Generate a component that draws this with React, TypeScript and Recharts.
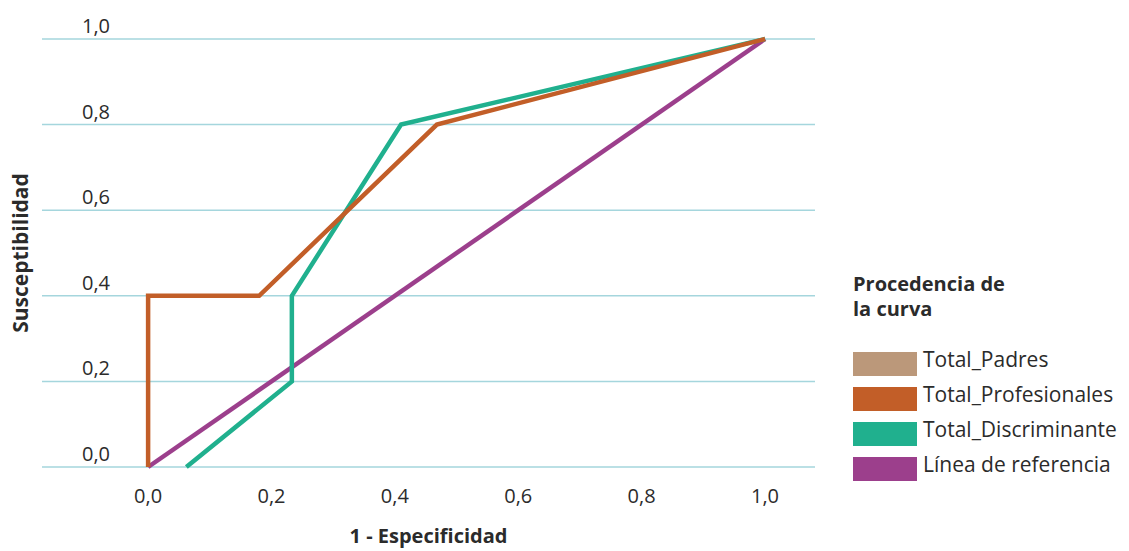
import { LineChart, Line, XAxis, YAxis, CartesianGrid } from 'recharts'

// ROC curves
const profX = [0, 0, 0.18, 0.468, 1]
const profY = [0, 0.4, 0.4, 0.8, 1]
const discX = [0.062, 0.233, 0.233, 0.41, 1]
const discY = [0, 0.2, 0.4, 0.8, 1]
const refX = [0, 1]
const refY = [0, 1]

const xTicks = [0, 0.2, 0.4, 0.6, 0.8, 1]
const yTicks = [0, 0.2, 0.4, 0.6, 0.8, 1]

const legendItems = [
  { name: 'Total_Padres', color: '#BB987A' },
  { name: 'Total_Profesionales', color: '#C25E28' },
  { name: 'Total_Discriminante', color: '#20B08E' },
  { name: 'Línea de referencia', color: '#9C3F8C' },
]

const toPoints = (xs: number[], ys: number[]) => xs.map((x, i) => ({ x, y: ys[i] }))

const fmt = (v: number) => v.toFixed(1).replace('.', ',')

const FONT = '"Open Sans", sans-serif'
const TEXT = '#2b2b2b'

const renderYTick = (props: any) => {
  const { y, payload } = props
  return (
    <text key={payload.value} x={110} y={y - 6} textAnchor="end" fill={TEXT} fontSize={20} fontFamily={FONT}>
      {fmt(payload.value)}
    </text>
  )
}

export default function App() {
  return (
    <div style={{ position: 'absolute', left: 0, top: 0, width: 1129, height: 551, background: '#fff', fontFamily: FONT }}>
      <LineChart width={830} height={551} margin={{ left: 41, right: 15, top: 39, bottom: 0 }}>
        <CartesianGrid vertical={false} stroke="#A5D6DD" strokeWidth={1.5} />
        <XAxis
          type="number"
          dataKey="x"
          domain={[-0.172, 1.081]}
          ticks={xTicks}
          tickFormatter={fmt}
          axisLine={false}
          tickLine={false}
          height={84}
          tick={{ fill: TEXT, fontSize: 20, fontFamily: FONT, dy: 14 }}
          label={{ value: '1 - Especificidad', position: 'insideBottom', offset: 0, dy: -8, fill: TEXT, fontSize: 20, fontWeight: 700, fontFamily: FONT }}
          allowDataOverflow
        />
        <YAxis
          type="number"
          dataKey="y"
          domain={[0, 1]}
          ticks={yTicks}
          width={1}
          axisLine={false}
          tickLine={false}
          tick={renderYTick}
        />
        <Line data={toPoints(refX, refY)} dataKey="y" type="linear" stroke="#9C3F8C" strokeWidth={4.5} dot={false} isAnimationActive={false} />
        <Line data={toPoints(discX, discY)} dataKey="y" type="linear" stroke="#20B08E" strokeWidth={4.5} dot={false} isAnimationActive={false} />
        <Line data={toPoints(profX, profY)} dataKey="y" type="linear" stroke="#C25E28" strokeWidth={4.5} dot={false} isAnimationActive={false} />
      </LineChart>

      <div style={{
        position: 'absolute', left: 20, top: 253, transform: 'translate(-50%, -50%) rotate(-90deg)',
        fontSize: 21, fontWeight: 700, color: TEXT, whiteSpace: 'nowrap',
      }}>
        Susceptibilidad
      </div>

      <div style={{ position: 'absolute', left: 853, top: 271, fontSize: 20, fontWeight: 700, color: TEXT, lineHeight: '25px' }}>
        Procedencia de<br />la curva
      </div>
      <div style={{ position: 'absolute', left: 853, top: 346 }}>
        {legendItems.map(item => (
          <div key={item.name} style={{ display: 'flex', alignItems: 'center', height: 35 }}>
            <div style={{ width: 64, height: 24, background: item.color, marginRight: 6 }} />
            <span style={{ fontSize: 21, color: TEXT, marginTop: -10 }}>{item.name}</span>
          </div>
        ))}
      </div>
    </div>
  )
}
